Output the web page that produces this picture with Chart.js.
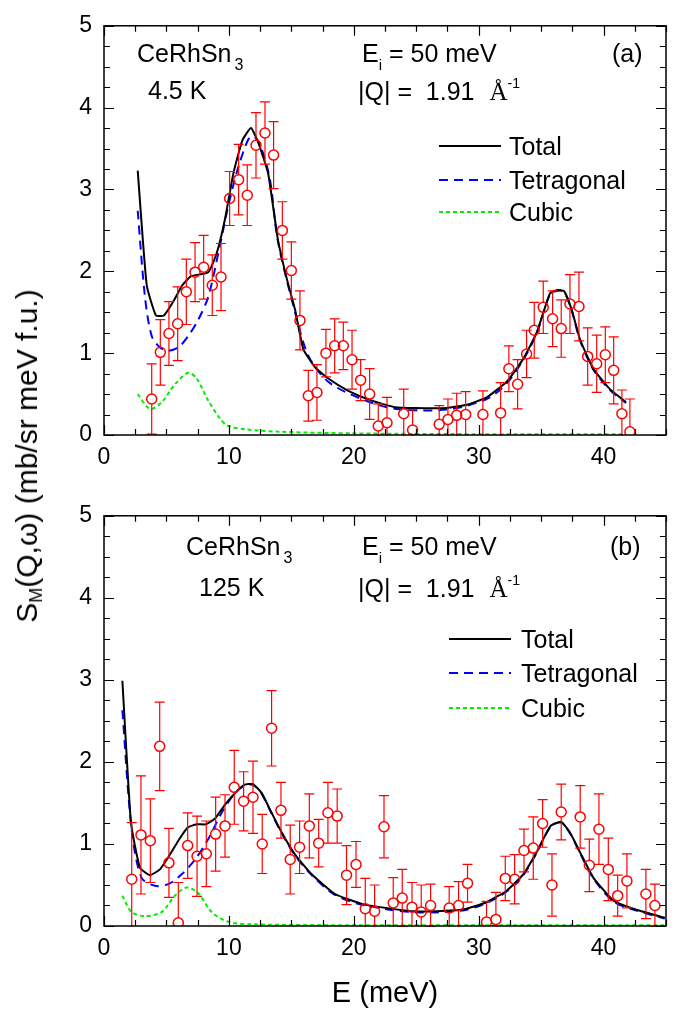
<!DOCTYPE html>
<html>
<head>
<meta charset="utf-8">
<script src="https://cdn.jsdelivr.net/npm/chart.js@4.4.1/dist/chart.umd.min.js"></script>
<style>
  body { margin: 0; background: #fff; width: 677px; height: 1014px; position: relative; overflow: hidden; }
  .panel { position: absolute; left: 0; width: 677px; }
  #wrapA { top: 0; height: 490px; }
  #wrapB { top: 490px; height: 524px; }
  #ytitle {
    position: absolute; left: 26.5px; top: 456px;
    font: 30px "Liberation Sans", Arial, sans-serif; line-height: 1; white-space: nowrap; color: #000;
    transform: translate(-50%, -50%) rotate(-90deg);
  }
  #ytitle sub { font-size: 60%; vertical-align: -0.3em; line-height: 0; }
</style>
</head>
<body>
<div class="panel" id="wrapA"><canvas id="chartA" width="677" height="490"></canvas></div>
<div class="panel" id="wrapB"><canvas id="chartB" width="677" height="524"></canvas></div>
<div id="ytitle">S<sub>M</sub>(Q,ω) (mb/sr meV f.u.)</div>
<script>
// tick values
const X_TICKS = [0, 10, 20, 30, 40];
const Y_TICKS = [0, 1, 2, 3, 4, 5];

// (a) 4.5 K — measured points
const A_ENERGY = [3.82, 4.51, 5.20, 5.90, 6.59, 7.29, 7.98, 8.67, 9.37, 10.06,
  10.78, 11.47, 12.17, 12.89, 13.58, 14.28, 15.00, 15.69, 16.36, 17.05,
  17.77, 18.47, 19.16, 19.86, 20.55, 21.27, 21.96, 22.66, 24.00, 24.71,
  26.84, 27.54, 28.24, 28.96, 30.34, 31.76, 32.42, 33.12, 33.84, 34.45,
  35.17, 35.92, 36.61, 37.31, 38.03, 38.73, 39.45, 40.14, 40.81, 41.47, 42.11];
const A_INTENSITY = [0.44, 1.01, 1.24, 1.36, 1.75, 1.99, 2.05, 1.83, 1.93, 2.89,
  3.12, 2.93, 3.54, 3.69, 3.42, 2.50, 2.01, 1.40, 0.48, 0.52,
  1.00, 1.09, 1.09, 0.92, 0.67, 0.50, 0.11, 0.15, 0.26, 0.06,
  0.13, 0.19, 0.24, 0.25, 0.25, 0.27, 0.81, 0.62, 0.99, 1.28,
  1.56, 1.42, 1.30, 1.60, 1.57, 0.96, 0.87, 0.98, 0.79, 0.26, 0.04];
const A_ERROR = [0.43, 0.40, 0.39, 0.45, 0.40, 0.36, 0.39, 0.37, 0.41, 0.33,
  0.43, 0.37, 0.40, 0.38, 0.41, 0.35, 0.35, 0.36, 0.31, 0.34,
  0.29, 0.33, 0.29, 0.36, 0.25, 0.31, 0.27, 0.31, 0.30, 0.25,
  0.23, 0.25, 0.27, 0.28, 0.29, 0.37, 0.28, 0.30, 0.29, 0.34,
  0.32, 0.34, 0.35, 0.36, 0.42, 0.35, 0.35, 0.34, 0.41, 0.29, 0.40];

// (a) fit curves
const A_TOTAL_E = [2.70, 3.42, 4.16, 4.80, 5.55, 6.27, 6.97, 8.35, 9.02, 9.69, 10.35, 11.08, 11.77, 12.36, 13.15, 13.91, 14.62, 15.30, 15.96, 16.89, 17.96, 19.56, 21.43, 23.30, 24.76, 27.44, 29.04, 30.64, 32.24, 33.57, 34.64, 35.71, 36.25, 36.83, 37.45, 38.11, 39.18, 40.51, 41.80];
const A_TOTAL = [3.23, 1.83, 1.46, 1.46, 1.63, 1.83, 1.94, 1.99, 2.22, 2.64, 3.19, 3.60, 3.75, 3.57, 3.19, 2.40, 1.92, 1.53, 1.05, 0.83, 0.69, 0.54, 0.42, 0.34, 0.33, 0.33, 0.37, 0.46, 0.65, 0.93, 1.25, 1.73, 1.77, 1.76, 1.53, 1.17, 0.81, 0.56, 0.40];
const A_TETRA_E = [2.70, 3.28, 3.82, 4.48, 5.15, 5.95, 6.75, 7.55, 8.35, 9.29, 9.95, 10.75, 11.55, 11.95, 12.49, 13.29, 13.91, 15.30, 16.36, 17.96, 20.63, 23.30, 27.44, 30.64, 32.24, 33.57, 34.64, 35.71, 36.25, 36.83, 37.45, 38.11, 39.18, 40.51, 41.80];
const A_TETRA = [2.74, 1.69, 1.21, 1.07, 1.03, 1.07, 1.21, 1.41, 1.69, 2.32, 2.80, 3.27, 3.61, 3.65, 3.55, 3.12, 2.38, 1.50, 0.97, 0.65, 0.44, 0.32, 0.31, 0.44, 0.63, 0.92, 1.24, 1.72, 1.76, 1.75, 1.52, 1.16, 0.80, 0.55, 0.39];
const A_CUBIC_E = [2.70, 3.68, 4.62, 5.68, 6.75, 7.42, 8.35, 9.29, 9.95, 11.29, 14.0, 20.0, 30.0, 41.8];
const A_CUBIC = [0.50, 0.32, 0.40, 0.62, 0.76, 0.69, 0.42, 0.20, 0.11, 0.07, 0.04, 0.02, 0.01, 0.01];

// (b) 125 K — measured points
const B_ENERGY = [2.22, 2.96, 3.71, 4.46, 5.20, 5.95, 6.70, 7.45, 8.19, 8.94,
  9.69, 10.43, 11.18, 11.93, 12.67, 13.42, 14.17, 14.91, 15.66, 16.44,
  17.19, 17.93, 18.67, 19.42, 20.18, 20.92, 21.67, 22.42, 23.16, 23.88,
  24.66, 25.40, 26.15, 27.64, 28.39, 29.11, 30.63, 31.38, 32.13, 32.88,
  33.63, 34.37, 35.12, 35.87, 36.61, 38.13, 38.86, 39.63, 40.38, 41.13,
  41.87, 43.39, 44.11];
const B_INTENSITY = [0.57, 1.11, 1.04, 2.19, 0.77, 0.04, 0.98, 0.85, 0.88, 1.12,
  1.22, 1.69, 1.52, 1.57, 1.00, 2.41, 1.41, 0.81, 0.96, 1.22,
  1.01, 1.38, 1.34, 0.62, 0.75, 0.21, 0.18, 1.21, 0.28, 0.34,
  0.23, 0.17, 0.25, 0.22, 0.25, 0.52, 0.05, 0.08, 0.58, 0.57,
  0.92, 0.95, 1.25, 0.50, 1.39, 1.33, 0.74, 1.18, 0.69, 0.37,
  0.55, 0.39, 0.25];
const B_ERROR = [0.69, 0.72, 0.51, 0.54, 0.42, 0.49, 0.40, 0.49, 0.40, 0.45,
  0.38, 0.45, 0.36, 0.44, 0.36, 0.46, 0.34, 0.42, 0.32, 0.39,
  0.29, 0.37, 0.33, 0.36, 0.28, 0.37, 0.32, 0.38, 0.31, 0.35,
  0.30, 0.33, 0.26, 0.26, 0.29, 0.23, 0.25, 0.33, 0.27, 0.30,
  0.26, 0.38, 0.29, 0.38, 0.34, 0.38, 0.32, 0.43, 0.38, 0.25,
  0.33, 0.30, 0.26];

// (b) fit curves
const B_TOTAL_E = [1.47, 2.16, 2.88, 3.68, 4.48, 5.20, 5.95, 6.70, 7.42, 8.17, 8.89, 9.69, 10.49, 11.23, 11.93, 12.63, 13.42, 14.23, 15.30, 16.63, 18.49, 20.63, 22.10, 24.76, 26.60, 28.73, 30.63, 32.24, 33.57, 34.64, 35.76, 36.59, 37.31, 38.11, 39.18, 40.78, 42.38, 44.90];
const B_TOTAL = [2.99, 1.26, 0.71, 0.62, 0.69, 0.85, 1.04, 1.20, 1.24, 1.24, 1.31, 1.48, 1.62, 1.72, 1.73, 1.62, 1.38, 1.14, 0.87, 0.63, 0.39, 0.27, 0.23, 0.18, 0.18, 0.20, 0.29, 0.43, 0.63, 0.90, 1.22, 1.27, 1.14, 0.90, 0.59, 0.31, 0.21, 0.10];
const B_TETRA_E = [1.47, 2.21, 3.00, 4.08, 5.15, 6.22, 7.29, 8.35, 9.42, 10.49, 11.23, 11.93, 12.63, 13.42, 14.23, 15.30, 16.63, 18.49, 20.63, 24.76, 28.73, 30.63, 32.24, 33.57, 34.64, 35.76, 36.59, 37.31, 38.11, 39.18, 40.78, 42.38, 44.90];
const B_TETRA = [2.63, 1.18, 0.59, 0.49, 0.51, 0.63, 0.81, 1.06, 1.38, 1.62, 1.71, 1.72, 1.61, 1.37, 1.13, 0.86, 0.62, 0.38, 0.26, 0.17, 0.19, 0.28, 0.42, 0.62, 0.89, 1.21, 1.26, 1.13, 0.89, 0.58, 0.30, 0.20, 0.09];
const B_CUBIC_E = [1.47, 2.21, 3.28, 4.62, 5.68, 6.62, 7.55, 8.62, 9.95, 12.0, 20.0, 45.0];
const B_CUBIC = [0.37, 0.17, 0.12, 0.17, 0.37, 0.47, 0.40, 0.17, 0.05, 0.02, 0.01, 0.01];

const FONT = '"Liberation Sans", Arial, sans-serif';
const SERIF = '"Liberation Serif", "Times New Roman", serif';
const RED = "#ff0000";
const BLUE = "#0000ff";
const GREEN = "#00ee00";

function xy(xs, ys) {
  return xs.map((x, i) => ({ x, y: ys[i] }));
}

function drawRuns(ctx, x, y, runs) {
  let cx = x;
  runs.forEach((r) => {
    ctx.font = `${r.size}px ${r.family || FONT}`;
    cx += r.dx || 0;
    ctx.fillText(r.t, cx, y + (r.dy || 0));
    cx += ctx.measureText(r.t).width;
  });
}

// frame with inward ticks on all four sides
const framePlugin = {
  id: "frame",
  afterDraw(chart) {
    const { ctx, chartArea: a, scales: { x, y } } = chart;
    ctx.save();
    ctx.strokeStyle = "#000";
    ctx.lineWidth = 1.5;
    ctx.strokeRect(a.left, a.top, a.right - a.left, a.bottom - a.top);
    ctx.lineWidth = 1.2;
    ctx.beginPath();
    for (let v = 0; v <= 45.001; v += 2.5) {
      const px = Math.round(x.getPixelForValue(v)) + 0.5;
      const len = v % 10 === 0 ? 10 : 6;
      ctx.moveTo(px, a.bottom); ctx.lineTo(px, a.bottom - len);
      ctx.moveTo(px, a.top); ctx.lineTo(px, a.top + len);
    }
    for (let v = 0; v <= 5.001; v += 0.25) {
      const py = Math.round(y.getPixelForValue(v)) + 0.5;
      const len = Math.abs(v - Math.round(v)) < 1e-6 ? 10 : 6;
      ctx.moveTo(a.left, py); ctx.lineTo(a.left + len, py);
      ctx.moveTo(a.right, py); ctx.lineTo(a.right - len, py);
    }
    ctx.stroke();
    ctx.restore();
  },
};

// vertical error bars with caps for the measured dataset
const errorBars = {
  id: "errorBars",
  afterDatasetsDraw(chart, args, opts) {
    const { ctx, chartArea: a, scales: { x, y } } = chart;
    const ds = chart.data.datasets[opts.dataset];
    ctx.save();
    ctx.beginPath();
    ctx.rect(a.left, a.top, a.right - a.left, a.bottom - a.top + 1);
    ctx.clip();
    ctx.strokeStyle = RED;
    ctx.lineWidth = 1.2;
    ctx.beginPath();
    ds.data.forEach((p, i) => {
      const e = opts.errors[i];
      const px = x.getPixelForValue(p.x);
      const py = y.getPixelForValue(p.y);
      const top = y.getPixelForValue(p.y + e);
      const bot = y.getPixelForValue(p.y - e);
      const r = 5;
      ctx.moveTo(px, py - r); ctx.lineTo(px, top);
      ctx.moveTo(px, py + r); ctx.lineTo(px, bot);
      ctx.moveTo(px - 5, top); ctx.lineTo(px + 5, top);
      ctx.moveTo(px - 5, bot); ctx.lineTo(px + 5, bot);
    });
    ctx.stroke();
    ctx.restore();
  },
};

// panel labels and legend
const labelsPlugin = {
  id: "labels",
  afterDraw(chart, args, opts) {
    const { ctx } = chart;
    ctx.save();
    ctx.fillStyle = "#000";
    ctx.textBaseline = "alphabetic";
    opts.texts.forEach((t) => drawRuns(ctx, t.x, t.y, t.runs));
    const lg = opts.legend;
    lg.rows.forEach((row) => {
      ctx.strokeStyle = row.color;
      ctx.lineWidth = row.width;
      ctx.setLineDash(row.dash);
      ctx.beginPath();
      ctx.moveTo(lg.x0, row.y); ctx.lineTo(lg.x1, row.y);
      ctx.stroke();
      ctx.setLineDash([]);
      drawRuns(ctx, lg.textX, row.y + 9, [{ t: row.label, size: 25 }]);
    });
    ctx.restore();
  },
};

function legendRows(y0, y1, y2) {
  return [
    { y: y0, label: "Total", color: "#000", width: 2, dash: [] },
    { y: y1, label: "Tetragonal", color: BLUE, width: 2, dash: [9, 6] },
    { y: y2, label: "Cubic", color: GREEN, width: 2, dash: [4, 3] },
  ];
}

function makePanel(canvasId, cfg) {
  const datasets = [
    {
      label: "data",
      data: xy(cfg.energy, cfg.intensity),
      showLine: false,
      pointStyle: "circle",
      pointRadius: 5,
      pointBorderWidth: 1.5,
      pointBorderColor: RED,
      pointBackgroundColor: "rgba(0,0,0,0)",
      order: 0,
    },
    {
      label: "Total",
      data: xy(cfg.totalE, cfg.total),
      showLine: true, borderColor: "#000", borderWidth: 2, pointRadius: 0, tension: 0.15,
      order: 1,
    },
    {
      label: "Tetragonal",
      data: xy(cfg.tetraE, cfg.tetra),
      showLine: true, borderColor: BLUE, borderWidth: 2, borderDash: [9, 6], pointRadius: 0, tension: 0.3,
      order: 2,
    },
    {
      label: "Cubic",
      data: xy(cfg.cubicE, cfg.cubic),
      showLine: true, borderColor: GREEN, borderWidth: 2, borderDash: [4, 3], pointRadius: 0, tension: 0.3,
      order: 3,
    },
  ];

  return new Chart(document.getElementById(canvasId), {
    type: "scatter",
    data: { datasets },
    options: {
      responsive: false,
      animation: false,
      devicePixelRatio: 1,
      layout: { padding: { left: 0, right: 11, top: cfg.padTop, bottom: 0 } },
      plugins: {
        legend: { display: false },
        tooltip: { enabled: false },
        errorBars: { dataset: 0, errors: cfg.errors },
        labels: { texts: cfg.texts, legend: cfg.legend },
      },
      scales: {
        x: {
          type: "linear", min: 0, max: 45,
          afterBuildTicks: (s) => { s.ticks = X_TICKS.map((v) => ({ value: v })); },
          ticks: { color: "#000", font: { size: 23, family: FONT }, padding: 9, maxRotation: 0 },
          grid: { display: false, drawTicks: false },
          border: { display: false },
          title: cfg.xTitle
            ? { display: true, text: "E (meV)", color: "#000", font: { size: 29, family: FONT }, padding: { top: 0, bottom: 3 } }
            : { display: false },
          afterFit: (s) => { s.height = cfg.xHeight; },
        },
        y: {
          type: "linear", min: 0, max: 5,
          afterBuildTicks: (s) => { s.ticks = Y_TICKS.map((v) => ({ value: v })); },
          ticks: { color: "#000", font: { size: 23, family: FONT }, padding: 12 },
          grid: { display: false, drawTicks: false },
          border: { display: false },
          afterFit: (s) => { s.width = 104; },
        },
      },
    },
    plugins: [errorBars, framePlugin, labelsPlugin],
  });
}

makePanel("chartA", {
  energy: A_ENERGY, intensity: A_INTENSITY, errors: A_ERROR,
  totalE: A_TOTAL_E, total: A_TOTAL,
  tetraE: A_TETRA_E, tetra: A_TETRA,
  cubicE: A_CUBIC_E, cubic: A_CUBIC,
  padTop: 16, xHeight: 55, xTitle: false,
  texts: [
    { x: 137, y: 62, runs: [{ t: "CeRhSn", size: 25 }, { t: "3", size: 16, dy: 8, dx: 3 }] },
    { x: 148, y: 99, runs: [{ t: "4.5 K", size: 25 }] },
    { x: 362, y: 62, runs: [{ t: "E", size: 25 }, { t: "i", size: 15, dy: 8 }, { t: " = 50 meV", size: 25 }] },
    { x: 358, y: 100, runs: [{ t: "|Q| =  1.91 ", size: 25 }, { t: "Å", size: 25, family: SERIF, dx: 8 }, { t: "-1", size: 14, dy: -12 }] },
    { x: 612, y: 62, runs: [{ t: "(a)", size: 25 }] },
  ],
  legend: { x0: 439, x1: 501, textX: 509, rows: legendRows(146, 180, 212) },
});

makePanel("chartB", {
  energy: B_ENERGY, intensity: B_INTENSITY, errors: B_ERROR,
  totalE: B_TOTAL_E, total: B_TOTAL,
  tetraE: B_TETRA_E, tetra: B_TETRA,
  cubicE: B_CUBIC_E, cubic: B_CUBIC,
  padTop: 17, xHeight: 88, xTitle: true,
  texts: [
    { x: 186, y: 65, runs: [{ t: "CeRhSn", size: 25 }, { t: "3", size: 16, dy: 8, dx: 3 }] },
    { x: 199, y: 106, runs: [{ t: "125 K", size: 25 }] },
    { x: 362, y: 65, runs: [{ t: "E", size: 25 }, { t: "i", size: 15, dy: 8 }, { t: " = 50 meV", size: 25 }] },
    { x: 358, y: 107, runs: [{ t: "|Q| =  1.91 ", size: 25 }, { t: "Å", size: 25, family: SERIF, dx: 8 }, { t: "-1", size: 14, dy: -12 }] },
    { x: 610, y: 65, runs: [{ t: "(b)", size: 25 }] },
  ],
  legend: { x0: 449, x1: 511, textX: 521, rows: legendRows(149, 183, 218) },
});
</script>
</body>
</html>
